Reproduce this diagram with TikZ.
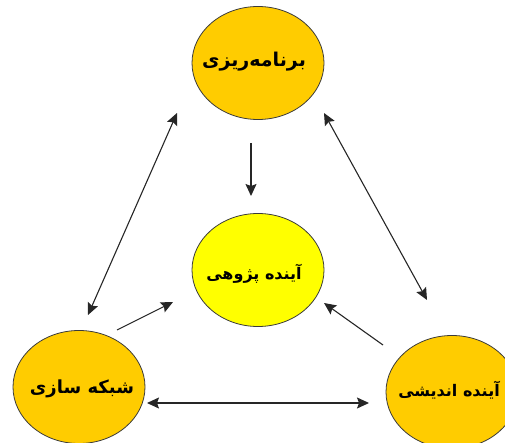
\documentclass[tikz,border=0pt]{standalone}
\usepackage{fontspec}
\usetikzlibrary{shapes.geometric,arrows.meta}
\newfontfamily\arabicfont[Script=Arabic,BoldFont={DejaVu Sans Bold}]{DejaVu Sans}
\TeXXeTstate=1
\definecolor{gold}{HTML}{FFCC00}
\definecolor{yel}{HTML}{FFFF00}
\definecolor{rim}{HTML}{3A3A3A}
\tikzset{
  bubble/.style={ellipse, draw=rim, line width=0.8pt, fill=gold, minimum width=132pt, minimum height=113pt, inner sep=0pt},
  label/.style={font=\arabicfont\bfseries\fontsize{#1}{20}\selectfont, inner sep=0pt},
  link/.style={draw=black!85, line width=1.1pt, -{Stealth[length=12pt,width=11pt,inset=2pt]}},
  dlink/.style={draw=black!85, line width=1.1pt, {Stealth[length=12pt,width=11pt,inset=2pt]}-{Stealth[length=12pt,width=11pt,inset=2pt]}}
}
\begin{document}
\begin{tikzpicture}[x=1pt,y=-1pt]
\useasboundingbox (0,0) rectangle (505,443);
\begin{scope}
\clip (0,0) rectangle (505,443);
\node[bubble] (plan) at (258,63) {};
\node[bubble, fill=yel] (fut) at (258,270) {};
\node[bubble] (net) at (79,387) {};
\node[bubble] (think) at (452,392) {};
\end{scope}
\node[label=19] (tplan) at (254,62) {\beginR برنامه‌ریزی\endR};
\node[label=16] (tfut) at (254,274) {\beginR آینده پژوهی\endR};
\node[label=18] (tnet) at (82,389) {\beginR شبکه سازی\endR};
\node[label=16] (tthink) at (449,390) {\beginR آینده اندیشی\endR};
% connector ends
\coordinate (p1) at (251,143);
\coordinate (p2) at (251,196);
\coordinate (a1) at (177,113);
\coordinate (a2) at (88,315);
\coordinate (b1) at (324,113);
\coordinate (b2) at (427,300);
\coordinate (c1) at (117,330);
\coordinate (c2) at (173,302);
\coordinate (d1) at (383,345);
\coordinate (d2) at (324,303);
\coordinate (e1) at (147,403);
\coordinate (e2) at (369,403);
\draw[link] (p1) -- (p2);
\draw[dlink] (a1) -- (a2);
\draw[dlink] (b1) -- (b2);
\draw[link] (c1) -- (c2);
\draw[link] (d1) -- (d2);
\draw[dlink] (e1) -- (e2);
\end{tikzpicture}
\end{document}
